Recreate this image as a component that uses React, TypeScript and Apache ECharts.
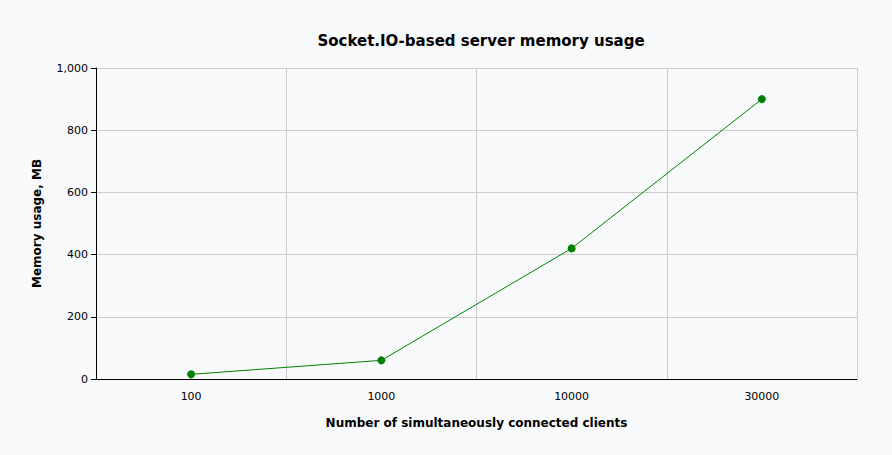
import React, { useEffect, useRef } from "react";
import * as echarts from "echarts";

const categories = ["100", "1000", "10000", "30000"];
const memoryMB = [15, 60, 420, 900];
const yTicks = { min: 0, max: 1000, interval: 200 };

const FONT = "Verdana, 'DejaVu Sans', sans-serif";

export default function App() {
  const ref = useRef<HTMLDivElement>(null);
  useEffect(() => {
    document.body.style.margin = "0";
    const chart = echarts.init(ref.current!, null, { renderer: "svg" });
    chart.setOption({
      animation: false,
      backgroundColor: "#f8f9fb",
      title: {
        text: "Socket.IO-based server memory usage",
        left: 476,
        top: 28,
        textAlign: "center",
        textStyle: { fontFamily: FONT, fontSize: 15, fontWeight: "bold", color: "#000" },
      },
      grid: { left: 96, right: 35, top: 68, bottom: 76, show: false },
      xAxis: {
        type: "category",
        data: categories,
        boundaryGap: true,
        name: "Number of simultaneously connected clients",
        nameLocation: "middle",
        nameGap: 38,
        nameTextStyle: { fontFamily: FONT, fontSize: 12, fontWeight: "bold", color: "#000" },
        axisLine: { lineStyle: { color: "#000", width: 1 } },
        axisTick: { alignWithLabel: true, length: 5, lineStyle: { color: "#000" } },
        axisLabel: { fontFamily: FONT, fontSize: 11, color: "#000", margin: 12 },
        splitLine: { show: true, lineStyle: { color: "#cccccc", width: 1 } },
      },
      yAxis: {
        type: "value",
        min: yTicks.min,
        max: yTicks.max,
        interval: yTicks.interval,
        name: "Memory usage, MB",
        nameLocation: "middle",
        nameGap: 53,
        nameTextStyle: { fontFamily: FONT, fontSize: 12, fontWeight: "bold", color: "#000" },
        axisLine: { show: true, lineStyle: { color: "#000", width: 1 } },
        axisTick: { show: true, length: 5, lineStyle: { color: "#000" } },
        axisLabel: {
          fontFamily: FONT,
          fontSize: 11,
          color: "#000",
          margin: 8,
          formatter: (v: number) => v.toLocaleString("en-US"),
        },
        splitLine: { show: true, lineStyle: { color: "#cccccc", width: 1 } },
      },
      series: [
        {
          type: "line",
          data: memoryMB,
          color: "#008000",
          lineStyle: { color: "#008000", width: 1 },
          itemStyle: { color: "#008000" },
          symbol: "circle",
          symbolSize: 8,
          showSymbol: true,
        },
      ],
    });
    return () => chart.dispose();
  }, []);
  return (
    <div
      ref={ref}
      style={{ position: "absolute", left: 0, top: 0, width: 892, height: 455 }}
    />
  );
}
